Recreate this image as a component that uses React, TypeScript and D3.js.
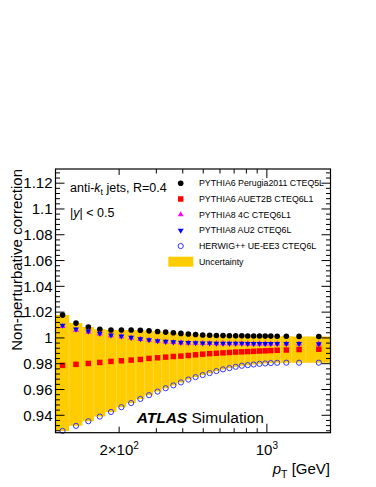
import React from 'react'
import * as d3 from 'd3'

// pT bin edges [GeV]
const binEdges = [100, 116, 134, 152, 172, 194, 216, 240, 264, 290, 318, 346, 376, 408, 442, 478, 516, 556, 598, 642, 688, 736, 786, 838, 894, 952, 1012, 1076, 1162, 1310, 1530, 1992]

const perugia2011 = [1.0177, 1.0115, 1.0084, 1.0067, 1.0062, 1.0062, 1.0061, 1.0059, 1.0055, 1.005, 1.0045, 1.004, 1.0035, 1.003, 1.0026, 1.0023, 1.0021, 1.0019, 1.0018, 1.0017, 1.0016, 1.0016, 1.0015, 1.0015, 1.0015, 1.0014, 1.0014, 1.0013, 1.0013, 1.0012, 1.0011]
const auet2b = [0.9787, 0.9795, 0.9802, 0.981, 0.9818, 0.9823, 0.9828, 0.9833, 0.9841, 0.9846, 0.9851, 0.9856, 0.9859, 0.9864, 0.9869, 0.9874, 0.9878, 0.9881, 0.9884, 0.9887, 0.989, 0.9892, 0.9894, 0.9896, 0.9898, 0.99, 0.9902, 0.9904, 0.9906, 0.991, 0.9912]
const py8_4c = [1.009, 1.0062, 1.0048, 1.0031, 1.0018, 1.0011, 1.0, 0.999, 0.9983, 0.9975, 0.997, 0.9966, 0.9963, 0.9961, 0.996, 0.9959, 0.9958, 0.9957, 0.9957, 0.9956, 0.9956, 0.9956, 0.9955, 0.9955, 0.9955, 0.9955, 0.9954, 0.9954, 0.9954, 0.9954, 0.9953]
const au2 = [1.0097, 1.0068, 1.0053, 1.0035, 1.0022, 1.0014, 1.0003, 0.9992, 0.9985, 0.9977, 0.9972, 0.9968, 0.9965, 0.9963, 0.9961, 0.996, 0.9959, 0.9958, 0.9958, 0.9957, 0.9957, 0.9957, 0.9956, 0.9956, 0.9956, 0.9956, 0.9955, 0.9955, 0.9955, 0.9955, 0.9954]
const herwig = [0.9279, 0.9318, 0.9354, 0.939, 0.9426, 0.9463, 0.9495, 0.9527, 0.9556, 0.9584, 0.961, 0.9632, 0.9655, 0.9677, 0.9696, 0.9712, 0.9727, 0.9743, 0.9756, 0.9766, 0.9776, 0.9784, 0.9789, 0.9794, 0.9799, 0.9802, 0.9805, 0.9807, 0.9808, 0.9808, 0.9808]

const legendLabels = ['PYTHIA6 Perugia2011 CTEQ5L', 'PYTHIA6 AUET2B CTEQ6L1', 'PYTHIA8 4C CTEQ6L1', 'PYTHIA8 AU2 CTEQ6L', 'HERWIG++ UE-EE3 CTEQ6L', 'Uncertainty']

const yMajorTicks = [0.94, 0.96, 0.98, 1.0, 1.02, 1.04, 1.06, 1.08, 1.1, 1.12]
const yTickLabels = ['0.94', '0.96', '0.98', '1', '1.02', '1.04', '1.06', '1.08', '1.1', '1.12']
const xMinorTicks = [200, 300, 400, 500, 600, 700, 800, 900, 2000]
const xMajorTicks = [1000]

const FONT = 'Liberation Sans, Arial, Helvetica, sans-serif'
const W = 376
const H = 487
const left = 55.5, right = 330.5, top = 169, bottom = 432.7

const series = [
  { values: perugia2011, color: '#000000', marker: 'dot' },
  { values: auet2b, color: '#ff0000', marker: 'square' },
  { values: py8_4c, color: '#ff00ff', marker: 'up' },
  { values: au2, color: '#0000ff', marker: 'down' },
  { values: herwig, color: '#3535ff', marker: 'open' },
]

const Marker = ({ type, x, y, color }) => {
  if (type === 'dot') return <circle cx={x} cy={y} r={2.8} fill={color} />
  if (type === 'open') return <circle cx={x} cy={y} r={2.6} fill="none" stroke={color} strokeWidth={1} />
  const sym = type === 'square' ? d3.symbolSquare : d3.symbolTriangle
  const size = type === 'square' ? 30 : 15
  const path = d3.symbol().type(sym).size(size)()
  const rot = type === 'down' ? 180 : 0
  return <path d={path} transform={`translate(${x},${y}) rotate(${rot})`} fill={color} />
}

export default function App() {
  const xs = d3.scaleLog().domain([100, 2000]).range([left, right])
  const ys = d3.scaleLinear().domain([0.9265, 1.131]).range([bottom, top])

  const bins = d3.range(binEdges.length - 1).map(i => {
    const lo = binEdges[i]
    const hi = binEdges[i + 1]
    const vals = series.map(s => s.values[i])
    return { lo, hi, center: (lo + hi) / 2, min: d3.min(vals), max: d3.max(vals) }
  })

  // step-shaped envelope of all models
  const stepPts = bins.flatMap(b => [{ x: b.lo, b }, { x: b.hi, b }])
  const band = d3.area()
    .x(p => xs(p.x))
    .y0(p => ys(p.b.min))
    .y1(p => ys(p.b.max))(stepPts)

  const yMinor = d3.range(0.928, 1.1301, 0.004).filter(v => !yMajorTicks.some(t => Math.abs(t - v) < 1e-6))

  const legendY = d3.scaleLinear().domain([0, 5]).range([183.3, 261.7])

  return (
    <div style={{ position: 'fixed', left: 0, top: 0 }}>
      <svg width={W} height={H} style={{ display: 'block', background: '#fff' }} fontFamily={FONT}>
        {/* uncertainty band */}
        <path d={band} fill="#ffcc00" />
        {bins.slice(1).map((b, i) => (
          <line key={i} x1={xs(b.lo)} x2={xs(b.lo)} y1={ys(Math.min(b.max, bins[i].max))} y2={ys(Math.max(b.min, bins[i].min))}
            stroke="#ffe27a" strokeWidth={0.5} />
        ))}

        {/* markers */}
        {series.map((s, si) => (
          <g key={si}>
            {bins.map((b, i) => (
              <Marker key={i} type={s.marker} x={xs(b.center)} y={ys(s.values[i])} color={s.color} />
            ))}
          </g>
        ))}

        {/* frame */}
        <rect x={left} y={top} width={right - left} height={bottom - top} fill="none" stroke="#000" strokeWidth={1.2} />

        {/* y ticks */}
        {yMajorTicks.map((v, i) => (
          <g key={i}>
            <line x1={left} x2={left + 9} y1={ys(v)} y2={ys(v)} stroke="#000" />
            <line x1={right} x2={right - 9} y1={ys(v)} y2={ys(v)} stroke="#000" />
            <text x={left - 3} y={ys(v) + 5.3} textAnchor="end" fontSize={15}>{yTickLabels[i]}</text>
          </g>
        ))}
        {yMinor.map((v, i) => (
          <g key={i}>
            <line x1={left} x2={left + 4.5} y1={ys(v)} y2={ys(v)} stroke="#000" />
            <line x1={right} x2={right - 4.5} y1={ys(v)} y2={ys(v)} stroke="#000" />
          </g>
        ))}

        {/* x ticks */}
        {xMinorTicks.map((v, i) => (
          <g key={i}>
            <line x1={xs(v)} x2={xs(v)} y1={bottom} y2={bottom - (v === 200 ? 6 : 4.5)} stroke="#000" />
            <line x1={xs(v)} x2={xs(v)} y1={top} y2={top + (v === 200 ? 6 : 4.5)} stroke="#000" />
          </g>
        ))}
        {xMajorTicks.map((v, i) => (
          <g key={i}>
            <line x1={xs(v)} x2={xs(v)} y1={bottom} y2={bottom - 9} stroke="#000" />
            <line x1={xs(v)} x2={xs(v)} y1={top} y2={top + 9} stroke="#000" />
          </g>
        ))}
        <text x={xs(200)} y={455} textAnchor="middle" fontSize={15}>
          2×10<tspan dy={-6} fontSize={10}>2</tspan>
        </text>
        <text x={xs(1000)} y={455} textAnchor="middle" fontSize={15}>
          10<tspan dy={-6} fontSize={10}>3</tspan>
        </text>

        {/* axis titles */}
        <text x={330} y={473.5} textAnchor="end" fontSize={15}>
          <tspan fontStyle="italic">p</tspan>
          <tspan dy={4} fontSize={10.5}>T</tspan>
          <tspan dy={-4}> [GeV]</tspan>
        </text>
        <text transform={`translate(22,${top}) rotate(-90)`} textAnchor="end" fontSize={15}>
          Non-perturbative correction
        </text>

        {/* labels */}
        <text x={70} y={191.5} fontSize={12.5}>
          anti-<tspan fontStyle="italic">k</tspan>
          <tspan dy={3} fontSize={9}>t</tspan>
          <tspan dy={-3}> jets, R=0.4</tspan>
        </text>
        <text x={70} y={216.5} fontSize={12.5}>
          |<tspan fontStyle="italic">y</tspan>| &lt; 0.5
        </text>

        {/* legend */}
        {series.map((s, i) => (
          <g key={i}>
            <Marker type={s.marker} x={180.7} y={legendY(i)} color={s.color} />
            <text x={199} y={legendY(i) + 3.1} fontSize={8.8}>{legendLabels[i]}</text>
          </g>
        ))}
        <rect x={168.3} y={legendY(5) - 5} width={25} height={10} fill="#ffcc00" />
        <text x={199} y={legendY(5) + 3.1} fontSize={8.8}>{legendLabels[5]}</text>

        <text x={136.7} y={422.5} fontSize={15.5}>
          <tspan fontWeight="bold" fontStyle="italic">ATLAS</tspan> Simulation
        </text>
      </svg>
    </div>
  )
}
